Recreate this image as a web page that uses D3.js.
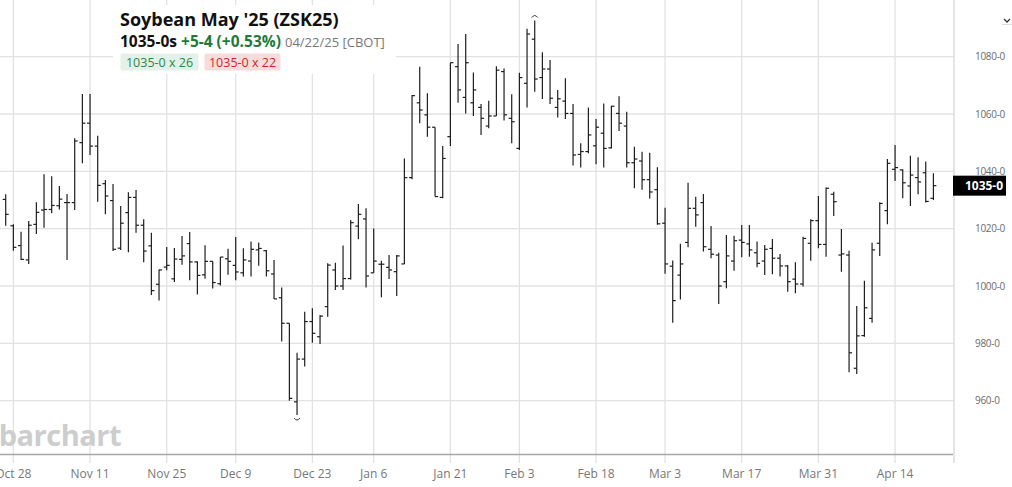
<!DOCTYPE html>
<html>
<head>
<meta charset="utf-8">
<script src="https://cdn.jsdelivr.net/npm/d3@7"></script>
<style>
  html, body { margin: 0; padding: 0; background: #fff; }
  svg { display: block; font-family: "Open Sans", "Noto Sans", sans-serif; }
</style>
</head>
<body>
<svg id="chart" width="1012" height="487"></svg>
<script>
// ---- data ----
const opens = [1030.2,1021.0,1014.1,1009.1,1021.5,1026.5,1026.7,1028.0,1029.1,1029.1,
  1050.0,1056.8,1048.8,1035.7,1029.8,1013.2,1025.6,1030.9,1021.2,1014.0,
  1000.6,1006.6,1002.5,1009.3,1014.8,1008.4,1003.9,1008.6,1000.8,1009.5,
  1007.2,1004.6,1008.7,1012.6,1012.3,1004.2,995.9,987.0,959.6,974.5,
  987.6,982.3,992.8,1005.6,1000.0,1002.6,1020.9,1023.4,1004.6,1007.6,
  1006.5,1005.0,1007.7,1037.8,1063.9,1059.7,1055.4,1030.9,1052.1,1076.5,
  1065.8,1063.9,1062.3,1055.8,1059.3,1074.8,1058.5,1048.0,1070.7,1086.1,
  1072.7,1075.7,1062.3,1064.5,1060.2,1045.9,1046.9,1048.9,1053.3,1048.2,
  1060.2,1055.8,1043.0,1043.6,1037.1,1033.6,1021.9,1006.9,1003.8,1015.2,
  1027.1,1029.1,1012.8,1010.8,1001.5,1008.7,1016.0,1014.7,1011.6,1008.7,
  1013.1,1009.7,1007.0,1002.4,1000.7,1014.9,1022.8,1014.5,1032.0,1010.8,
  1010.8,971.3,982.7,988.7,1014.9,1026.3,1040.7,1040.5,1034.9,1037.8,
  1039.5,1030.6];
const highs = [1032.0,1021.5,1018.9,1022.7,1029.2,1039.0,1038.3,1034.9,1032.1,1051.5,
  1067.0,1067.0,1052.4,1037.0,1035.6,1027.9,1032.7,1033.5,1023.3,1018.6,
  1005.8,1013.6,1013.3,1017.4,1018.8,1008.6,1014.2,1008.6,1010.1,1013.0,
  1017.1,1013.2,1015.5,1015.2,1012.6,1009.1,999.5,987.0,976.7,991.0,
  992.2,989.9,1007.9,1008.1,1014.1,1023.0,1028.6,1027.1,1020.1,1008.8,
  1010.8,1010.8,1044.5,1066.6,1076.5,1067.2,1055.4,1048.8,1077.9,1084.4,
  1087.9,1074.5,1063.5,1064.6,1076.7,1075.9,1066.9,1074.4,1089.7,1092.6,
  1081.5,1078.8,1068.4,1072.5,1063.5,1049.8,1062.3,1058.3,1063.7,1062.9,
  1066.2,1060.8,1048.6,1046.8,1046.5,1041.4,1027.3,1008.9,1014.7,1036.0,
  1031.1,1032.1,1020.9,1011.6,1017.8,1017.5,1021.3,1021.3,1015.5,1014.3,
  1016.4,1011.2,1007.3,1008.3,1017.2,1023.3,1031.4,1034.4,1032.9,1019.9,
  1012.3,993.0,1001.8,1015.1,1029.2,1044.3,1049.2,1040.7,1045.4,1044.9,
  1043.4,1039.3];
const lows = [1021.0,1012.3,1009.1,1007.7,1018.1,1020.3,1025.4,1026.7,1009.1,1026.5,
  1042.8,1045.7,1029.4,1025.0,1012.2,1012.6,1011.8,1018.6,1008.3,996.9,
  994.9,1005.5,1001.4,1007.4,1002.0,997.0,1002.5,999.1,1000.2,1003.9,
  1002.0,1003.3,1003.3,1007.1,1003.3,995.5,980.6,960.0,955.0,971.9,
  980.2,979.8,989.3,998.6,998.6,1002.3,1016.3,999.5,1004.6,996.1,
  1002.4,996.5,1007.7,1037.2,1056.8,1052.1,1031.2,1030.6,1048.8,1063.9,
  1060.2,1059.3,1052.7,1055.0,1059.3,1057.7,1049.8,1047.4,1062.3,1067.8,
  1065.2,1063.5,1058.8,1058.3,1042.0,1041.3,1046.3,1042.5,1041.3,1048.0,
  1054.1,1041.3,1034.1,1033.6,1030.5,1021.4,1004.3,987.2,995.3,1013.5,
  1020.7,1012.0,1009.7,993.7,999.2,1005.3,1010.0,1010.2,1006.5,1003.8,
  1004.1,1003.3,998.0,997.5,999.8,1008.8,1013.2,1010.2,1024.4,1005.0,
  969.9,969.3,982.3,987.2,1010.5,1021.5,1036.6,1030.6,1027.9,1032.0,
  1029.1,1030.0];
const closes = [1025.0,1013.5,1009.3,1021.2,1025.7,1026.7,1028.1,1030.3,1029.1,1050.6,
  1056.8,1048.8,1035.1,1031.4,1012.8,1021.9,1030.9,1021.2,1012.2,998.4,
  1005.6,1007.2,1009.4,1010.5,1008.4,1003.7,1008.6,1001.2,1010.1,1008.6,
  1004.9,1009.1,1012.8,1013.1,1005.3,995.5,987.0,960.8,974.5,987.6,
  983.5,989.5,1007.3,1000.0,1002.6,1022.1,1025.0,1003.5,1008.7,1007.6,
  1005.6,1010.5,1037.8,1066.4,1061.4,1055.4,1031.2,1044.5,1077.9,1068.4,
  1077.9,1068.4,1058.5,1059.3,1075.3,1059.7,1057.3,1072.7,1087.9,1072.2,
  1075.7,1065.5,1065.3,1060.2,1045.7,1046.9,1052.7,1055.4,1048.0,1062.7,
  1056.8,1043.0,1044.3,1037.1,1032.8,1021.7,1007.7,994.9,1007.7,1027.1,
  1024.8,1013.7,1011.1,1000.0,1010.5,1015.8,1015.2,1012.6,1007.9,1012.8,
  1009.7,1007.0,1001.5,1000.7,1016.6,1022.8,1014.5,1034.1,1029.4,1011.2,
  976.7,982.6,992.4,1012.6,1028.8,1042.8,1041.3,1036.0,1038.7,1036.3,
  1029.5,1035.0];

const xTickLabels = ["Oct 28","Nov 11","Nov 25","Dec 9","Dec 23","Jan 6","Jan 21","Feb 3","Feb 18","Mar 3","Mar 17","Mar 31","Apr 14"];
const xTickBars   = [1,11,21,30,40,48,58,67,77,86,96,106,116];
const yTicks = [960,980,1000,1020,1040,1060,1080];
const lastPrice = 1035;

const titleText = "Soybean May '25 (ZSK25)";
const lastText = "1035-0s";
const changeText = "+5-4 (+0.53%)";
const dateText = "04/22/25 [CBOT]";
const bidText = "1035-0 x 26";
const askText = "1035-0 x 22";

// ---- drawing ----
const svg = d3.select("#chart");
const plotRight = 954;
const x = d3.scaleLinear().domain([0, opens.length - 1]).range([5.7, 933.4]);
const y = d3.scaleLinear().domain([960, 1080]).range([400.67, 56.67]);
const fmt = v => `${v}-0`;

const grid = svg.append("g");
grid.selectAll("line.v").data(xTickBars).join("line")
  .attr("x1", d => x(d)).attr("x2", d => x(d))
  .attr("y1", 0).attr("y2", 463)
  .attr("stroke", "#e2e2e2").attr("stroke-width", 1.3);
grid.selectAll("line.h").data(yTicks).join("line")
  .attr("x1", 0).attr("x2", plotRight)
  .attr("y1", d => y(d)).attr("y2", d => y(d))
  .attr("stroke", "#e2e2e2").attr("stroke-width", 1.3);
// right border
svg.append("line").attr("x1", plotRight).attr("x2", plotRight).attr("y1", 0).attr("y2", 463)
  .attr("stroke", "#dcdcdc").attr("stroke-width", 1.5);

// watermark
svg.append("text").attr("x", 121).attr("y", 446).attr("text-anchor", "end")
  .attr("font-size", 29).attr("font-weight", 700).attr("fill", "#cdcdcd")
  .attr("letter-spacing", -0.5).text("barchart");

// x axis line
svg.append("line").attr("x1", 0).attr("x2", plotRight - 1).attr("y1", 454.5).attr("y2", 454.5)
  .attr("stroke", "#a6a6a6").attr("stroke-width", 1.6);

// x labels
svg.append("g").selectAll("text").data(xTickBars).join("text")
  .attr("x", d => x(d)).attr("y", 478).attr("text-anchor", "middle")
  .attr("font-size", 12).attr("fill", "#777")
  .text((d, i) => xTickLabels[i]);

// y labels
svg.append("g").selectAll("text").data(yTicks).join("text")
  .attr("x", 975).attr("y", d => y(d)).attr("dy", "0.35em")
  .attr("font-size", 10).attr("letter-spacing", -0.3).attr("fill", "#6b6b6b")
  .text(d => fmt(d));

// OHLC bars
const bars = svg.append("g").attr("stroke", "#1e1e1e").attr("stroke-width", 1.2);
const idx = d3.range(opens.length);
bars.selectAll("line.hl").data(idx).join("line")
  .attr("x1", i => x(i)).attr("x2", i => x(i))
  .attr("y1", i => y(highs[i])).attr("y2", i => y(lows[i]));
bars.selectAll("line.o").data(idx).join("line")
  .attr("x1", i => x(i) - 3).attr("x2", i => x(i))
  .attr("y1", i => y(opens[i])).attr("y2", i => y(opens[i]));
bars.selectAll("line.c").data(idx).join("line")
  .attr("x1", i => x(i)).attr("x2", i => x(i) + 3)
  .attr("y1", i => y(closes[i])).attr("y2", i => y(closes[i]));

// high / low markers
const iMax = d3.maxIndex(highs), iMin = d3.minIndex(lows);
svg.append("path")
  .attr("d", `M${x(iMax) - 3},${y(highs[iMax]) - 3} q3,-4 6,0`)
  .attr("fill", "none").attr("stroke", "#333").attr("stroke-width", 1);
svg.append("path")
  .attr("d", `M${x(iMin) - 3},${y(lows[iMin]) + 3} q3,4 6,0`)
  .attr("fill", "none").attr("stroke", "#333").attr("stroke-width", 1);

// last price box
const ly = y(lastPrice);
svg.append("rect").attr("x", 953).attr("y", ly - 10).attr("width", 53).attr("height", 20).attr("fill", "#000");
svg.append("text").attr("x", 984).attr("y", ly).attr("dy", "0.36em").attr("text-anchor", "middle")
  .attr("font-size", 12).attr("font-weight", 700).attr("fill", "#fff").text(fmt(lastPrice));

// top-right small icon
svg.append("path").attr("d", "M1004,19 l3,3 l3,-3").attr("fill", "none").attr("stroke", "#333").attr("stroke-width", 1.3);
svg.append("line").attr("x1", 1002).attr("x2", 1012).attr("y1", 24.5).attr("y2", 24.5).attr("stroke", "#ddd");

// title panel
svg.append("rect").attr("x", 113).attr("y", 5).attr("width", 283).attr("height", 69).attr("fill", "#fff");
svg.append("text").attr("x", 120).attr("y", 26).attr("font-size", 18).attr("font-weight", 700)
  .attr("fill", "#111").text(titleText);
const line2 = svg.append("text").attr("x", 120).attr("y", 46.5);
line2.append("tspan").attr("font-size", 15.5).attr("font-weight", 700).attr("fill", "#111").text(lastText);
line2.append("tspan").attr("dx", 4).attr("font-size", 15.5).attr("font-weight", 700).attr("fill", "#1f7a3a").text(changeText);
line2.append("tspan").attr("dx", 4).attr("font-size", 13).attr("fill", "#777").text(dateText);

svg.append("rect").attr("x", 120.5).attr("y", 53.5).attr("width", 78).attr("height", 17).attr("rx", 2).attr("fill", "#e4f1e8");
svg.append("text").attr("x", 159.5).attr("y", 66.5).attr("text-anchor", "middle").attr("font-size", 12.5)
  .attr("fill", "#238a47").text(bidText);
svg.append("rect").attr("x", 204.5).attr("y", 53.5).attr("width", 76).attr("height", 17).attr("rx", 2).attr("fill", "#f8dcdc");
svg.append("text").attr("x", 242.5).attr("y", 66.5).attr("text-anchor", "middle").attr("font-size", 12.5)
  .attr("fill", "#d31f2a").text(askText);
</script>
</body>
</html>
